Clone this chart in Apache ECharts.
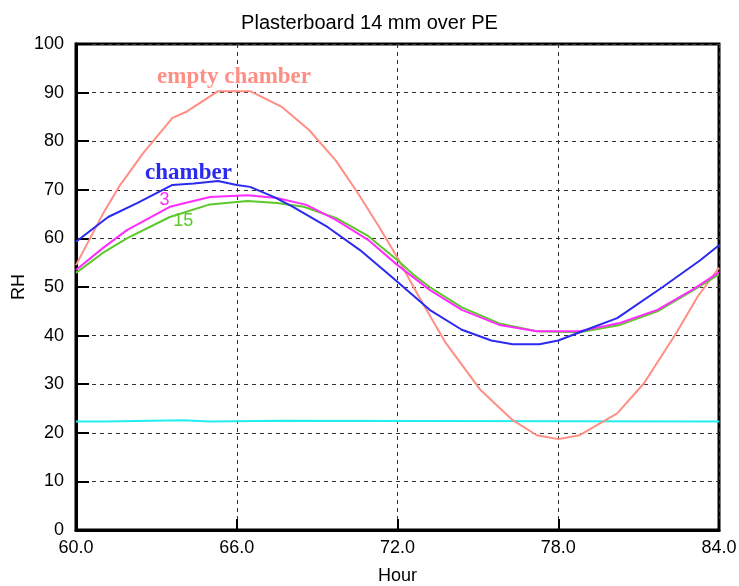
<!DOCTYPE html>
<html>
<head>
<meta charset="utf-8">
<script src="https://cdn.jsdelivr.net/npm/echarts@6/dist/echarts.min.js"></script>
<style>
  html, body { margin: 0; padding: 0; background: #fff; }
  #chart { width: 739px; height: 586px; }
</style>
</head>
<body>
<div id="chart"></div>
<script>
// Relative humidity over one cycle, plasterboard 14 mm over PE
var emptyHours   = [60, 61, 61.6, 62.5, 63.6, 64.1, 65.3, 66.5, 67.7, 68.7, 69.7, 70.5, 71.3, 72, 72.8, 73.8, 75.1, 76.3, 77.2, 78, 78.8, 80.2, 81.2, 82.4, 83.2, 84];
var emptyRH      = [54.5, 65, 70.6, 77.5, 84.8, 86, 90.3, 90.3, 87, 82.3, 76, 69.5, 62.5, 56, 48, 38.5, 28.8, 22.6, 19.5, 18.7, 19.5, 24, 30.2, 40.5, 48, 54];

var chamberHours = [60, 61.2, 62.3, 63.6, 64.4, 65.3, 66, 66.5, 67.4, 68.1, 69.4, 70.6, 71.8, 73.2, 74.4, 75.5, 76.3, 77.3, 78, 78.8, 80.2, 81.9, 83.3, 84];
var chamberRH    = [59.3, 64.4, 67.3, 71, 71.3, 71.8, 71, 70.6, 68.5, 66.5, 62.3, 57.6, 52, 45.3, 41.2, 39, 38.2, 38.2, 39, 40.7, 43.6, 50, 55.5, 58.6];

var depth3Hours  = [60, 61, 61.9, 63.5, 65, 66.4, 67.5, 68.6, 69.7, 70.9, 72, 73.2, 74.4, 75.8, 77.2, 78.8, 80.3, 81.7, 83, 84];
var depth3RH     = [53.5, 58, 61.7, 66.5, 68.5, 68.9, 68.3, 66.9, 63.8, 59.7, 54.5, 49.4, 45.3, 42.2, 40.9, 40.9, 42.6, 45.3, 49.4, 53];

var depth15Hours = [60, 61, 61.9, 63.5, 65, 66.4, 67.5, 68.5, 69.7, 70.9, 72, 72.6, 73.2, 74.4, 75.8, 77.2, 78.8, 80.3, 81.7, 83, 84];
var depth15RH    = [52.9, 57, 60, 64.4, 67, 67.7, 67.3, 66.5, 64.2, 60.5, 55.5, 52.5, 50, 45.8, 42.5, 40.9, 40.7, 42.2, 45, 49.2, 52.6];

var baseHours    = [60, 61.1, 61.15, 64.0, 64.05, 65.0, 65.05, 67.6, 67.65, 84];
var baseRH       = [22.3, 22.3, 22.6, 22.6, 22.3, 22.3, 22.5, 22.5, 22.3, 22.3];

// Curve labels: [hour, RH, text]
var emptyLabel   = [65.9, 93.2, 'empty chamber'];
var chamberLabel = [64.2, 73.5, 'chamber'];
var depth3Label  = [63.3, 67.8, '3'];
var depth15Label = [64.0, 63.5, '15'];

var xTicks = { min: 60, max: 84, step: 6 };
var yTicks = { min: 0, max: 100, step: 10 };

function pairs(xs, ys) {
  return xs.map(function (x, i) { return [x, ys[i]]; });
}

function textMark(lbl, color, font, size, weight) {
  return {
    silent: true,
    symbol: 'circle',
    symbolSize: 0,
    data: [{ coord: [lbl[0], lbl[1]], value: lbl[2] }],
    label: {
      show: true,
      position: 'inside',
      formatter: lbl[2],
      color: color,
      fontFamily: font,
      fontSize: size,
      fontWeight: weight
    }
  };
}

function lineSeries(name, xs, ys, color, mark) {
  var s = {
    name: name,
    type: 'line',
    data: pairs(xs, ys),
    symbol: 'none',
    smooth: false,
    animation: false,
    lineStyle: { color: color, width: 2 },
    itemStyle: { color: color },
    z: 3
  };
  if (mark) s.markPoint = mark;
  return s;
}

var chart = echarts.init(document.getElementById('chart'), null, { renderer: 'canvas' });

chart.setOption({
  backgroundColor: '#ffffff',
  animation: false,
  title: {
    text: 'Plasterboard 14 mm over PE',
    left: 'center',
    top: 8,
    textStyle: { fontFamily: 'Liberation Sans', fontSize: 20, fontWeight: 'normal', color: '#000' }
  },
  grid: {
    left: 76, right: 20, top: 44, bottom: 56,
    containLabel: false,
    outerBoundsMode: 'none',
    show: true,
    borderColor: '#000',
    borderWidth: 3,
    backgroundColor: 'transparent'
  },
  xAxis: {
    type: 'value',
    min: xTicks.min, max: xTicks.max, interval: xTicks.step,
    name: 'Hour',
    nameLocation: 'middle',
    nameGap: 37,
    nameMoveOverlap: false,
    nameTextStyle: { fontFamily: 'Liberation Sans', fontSize: 18, color: '#000' },
    axisLine: { show: true, lineStyle: { color: '#000', width: 3 } },
    axisTick: { show: true, inside: true, length: 11, lineStyle: { color: '#000', width: 2 } },
    axisLabel: {
      fontFamily: 'Liberation Sans', fontSize: 18, color: '#000', margin: 9,
      formatter: function (v) { return v.toFixed(1); }
    },
    splitLine: { show: true, lineStyle: { color: '#333', width: 1, type: [4, 4] } }
  },
  yAxis: {
    type: 'value',
    min: yTicks.min, max: yTicks.max, interval: yTicks.step,
    name: 'RH',
    nameLocation: 'middle',
    nameGap: 48,
    nameMoveOverlap: false,
    nameRotate: 90,
    nameTextStyle: { fontFamily: 'Liberation Sans', fontSize: 18, color: '#000' },
    axisLine: { show: true, lineStyle: { color: '#000', width: 3 } },
    axisTick: { show: true, inside: true, length: 13, lineStyle: { color: '#000', width: 2 } },
    axisLabel: { fontFamily: 'Liberation Sans', fontSize: 18, color: '#000', margin: 12 },
    splitLine: { show: true, lineStyle: { color: '#333', width: 1, type: [4, 4] } }
  },
  series: [
    lineSeries('base', baseHours, baseRH, '#22eeee'),
    lineSeries('empty chamber', emptyHours, emptyRH, '#ff8f85',
      textMark(emptyLabel, '#ff8f85', 'Liberation Serif', 23, 'bold')),
    lineSeries('15', depth15Hours, depth15RH, '#5cc82a',
      textMark(depth15Label, '#5cc82a', 'Liberation Sans', 18, 'normal')),
    lineSeries('3', depth3Hours, depth3RH, '#ff2cff',
      textMark(depth3Label, '#ff2cff', 'Liberation Sans', 18, 'normal')),
    lineSeries('chamber', chamberHours, chamberRH, '#2a2af0',
      textMark(chamberLabel, '#2a2af0', 'Liberation Serif', 23, 'bold'))
  ]
});
</script>
</body>
</html>
